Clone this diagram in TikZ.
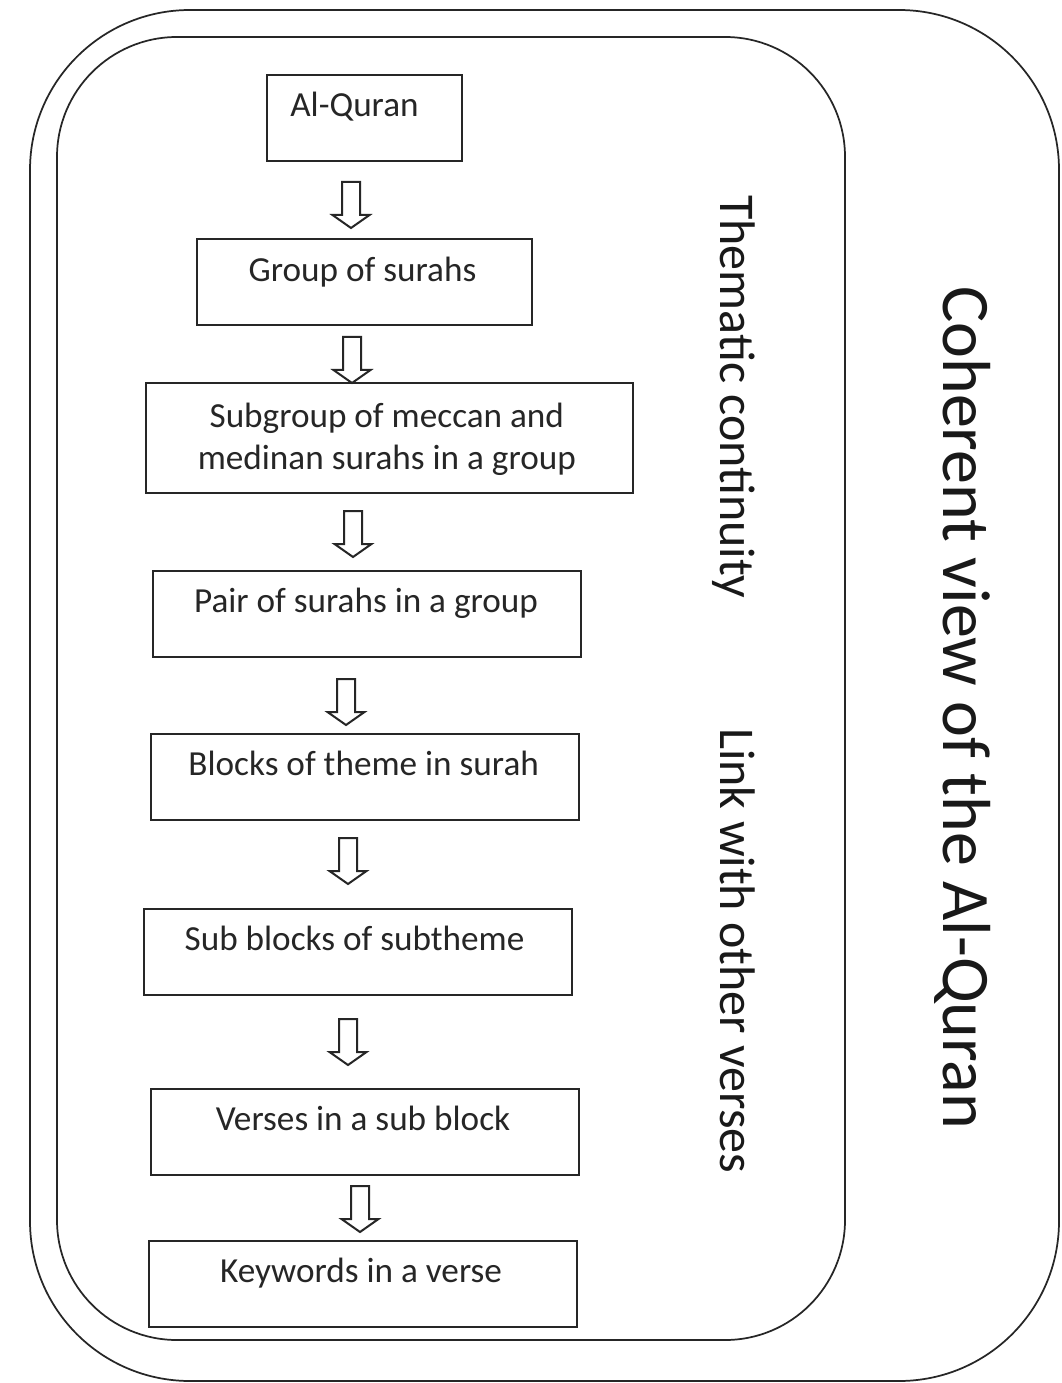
\documentclass[tikz,border=0pt]{standalone}
\usepackage{fontspec}
\setmainfont{Carlito}
\begin{document}
\begin{tikzpicture}[x=0.75pt,y=-0.75pt,
  frame/.style={draw=black!85, line width=1.3pt},
  box/.style={draw=black!85, line width=1.5pt, inner sep=0pt},
  boxtext/.style={font=\fontsize{26.4pt}{31.5pt}\selectfont, text=black!85, inner sep=0pt, anchor=base, align=center},
  sidetext/.style={font=\fontsize{37.5pt}{45pt}\selectfont, text=black!90, inner sep=0pt, rotate=-90, anchor=base west},
  titletext/.style={font=\fontsize{51pt}{60pt}\selectfont, text=black!90, inner sep=0pt, rotate=-90, anchor=base west},
  blockarrow/.pic={\draw[black!85, line width=1.5pt, line join=miter, fill=white]
     (-9,0) -- (-9,33) -- (-18.5,33) -- (0,46) -- (18.5,33) -- (9,33) -- (9,0) -- cycle;}
]
\useasboundingbox (0,0) rectangle (1061,1383);
\fill[white] (0,0) rectangle (1061,1383);

% containers
\draw[frame, rounded corners=120pt] (30,10) rectangle (1059,1381);
\draw[frame, rounded corners=90pt] (57,37) rectangle (845,1340);

% boxes
\node[box, minimum width=195*0.75pt, minimum height=86*0.75pt] (b1) at (364.5,118) {};
\node[box, minimum width=335*0.75pt, minimum height=86*0.75pt] (b2) at (364.5,282) {};
\node[box, minimum width=487*0.75pt, minimum height=110*0.75pt] (b3) at (389.5,438) {};
\node[box, minimum width=428*0.75pt, minimum height=86*0.75pt] (b4) at (367,614) {};
\node[box, minimum width=428*0.75pt, minimum height=86*0.75pt] (b5) at (365,777) {};
\node[box, minimum width=428*0.75pt, minimum height=86*0.75pt] (b6) at (358,952) {};
\node[box, minimum width=428*0.75pt, minimum height=86*0.75pt] (b7) at (365,1132) {};
\node[box, minimum width=428*0.75pt, minimum height=86*0.75pt] (b8) at (363,1284) {};

% texts
\node[boxtext] (t1) at ([xshift=-7.5pt,yshift=-32pt]b1.north) {Al-Quran};
\node[boxtext] (t2) at ([xshift=-1.5pt,yshift=-32.5pt]b2.north) {Group of surahs};
\node[boxtext] (t3) at ([xshift=-2pt,yshift=-65.75pt]b3.north) {Subgroup of meccan and\\medinan surahs in a group};
\node[boxtext] (t4) at ([xshift=-0.75pt,yshift=-32pt]b4.north) {Pair of surahs in a group};
\node[boxtext] (t5) at ([xshift=-1pt,yshift=-32pt]b5.north) {Blocks of theme in surah};
\node[boxtext] (t6) at ([xshift=-2.6pt,yshift=-32pt]b6.north) {Sub blocks of subtheme};
\node[boxtext] (t7) at ([xshift=-1.5pt,yshift=-32pt]b7.north) {Verses in a sub block};
\node[boxtext] (t8) at ([xshift=-1.5pt,yshift=-32pt]b8.north) {Keywords in a verse};

% block arrows between boxes
\coordinate (a1) at (351,182);
\coordinate (a2) at (352,337);
\coordinate (a3) at (353,511);
\coordinate (a4) at (346,679);
\coordinate (a5) at (348,838);
\coordinate (a6) at (348,1019);
\coordinate (a7) at (360,1186);
\foreach \a in {a1,a2,a3,a4,a5,a6,a7} { \pic at (\a) {blockarrow}; }

% side labels
\node[sidetext] (s1) at (720,195) {Thematic continuity};
\node[sidetext] (s2) at (720,728) {Link with other verses};
\node[titletext] (s3) at (943,286) {Coherent view of the Al-Quran};
\end{tikzpicture}
\end{document}
